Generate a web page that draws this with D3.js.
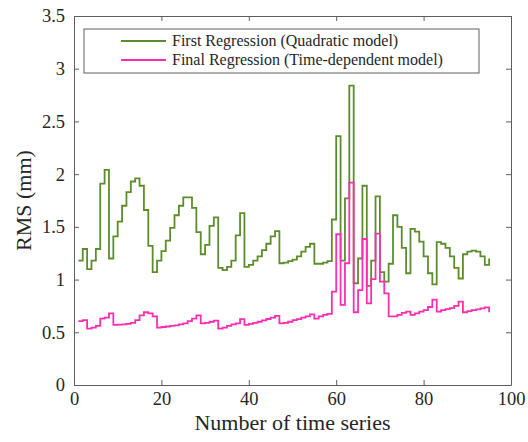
<!DOCTYPE html>
<html>
<head>
<meta charset="utf-8">
<script src="https://cdn.jsdelivr.net/npm/d3@7"></script>
<style>
    body { margin: 0; background: #fff; }
    svg { display: block; }
    .axis path, .axis line { stroke: #5e5e5e; }
</style>
</head>
<body>
<div id="chart"></div>
<script>
// values, one per time series (x = 1..95)
const firstRegression = [
    1.18, 1.29, 1.10, 1.18, 1.29, 1.91, 2.04, 1.20, 1.41, 1.55,
    1.70, 1.83, 1.93, 1.96, 1.89, 1.66, 1.32, 1.07, 1.18, 1.27,
    1.37, 1.49, 1.61, 1.70, 1.78, 1.78, 1.68, 1.45, 1.24, 1.33,
    1.51, 1.59, 1.11, 1.09, 1.12, 1.18, 1.42, 1.63, 1.12, 1.14,
    1.18, 1.22, 1.28, 1.34, 1.41, 1.46, 1.155, 1.16, 1.175, 1.19,
    1.22, 1.265, 1.31, 1.34, 1.15, 1.15, 1.16, 1.175, 1.57, 2.36,
    1.18, 1.77, 2.84, 0.965, 1.20, 1.89, 0.94, 1.18, 1.79, 1.07,
    0.98, 1.15, 1.61, 1.50, 1.30, 1.06, 1.48, 1.455, 1.36, 1.22,
    1.06, 0.955, 1.355, 1.34, 1.30, 1.22, 1.11, 1.01, 1.24, 1.265,
    1.275, 1.265, 1.22, 1.14, 1.20
];
const finalRegression = [
    0.605, 0.615, 0.535, 0.545, 0.56, 0.63, 0.64, 0.68, 0.57, 0.572,
    0.575, 0.58, 0.59, 0.615, 0.66, 0.69, 0.68, 0.65, 0.545, 0.55,
    0.555, 0.56, 0.565, 0.575, 0.585, 0.605, 0.63, 0.66, 0.585, 0.59,
    0.60, 0.61, 0.535, 0.545, 0.56, 0.575, 0.585, 0.625, 0.57, 0.58,
    0.59, 0.60, 0.613, 0.626, 0.64, 0.655, 0.585, 0.59, 0.60, 0.615,
    0.625, 0.64, 0.65, 0.67, 0.63, 0.65, 0.665, 0.675, 0.885, 1.43,
    0.76, 1.155, 1.92, 0.69, 0.90, 1.385, 0.775, 1.005, 1.435, 0.98,
    0.87, 0.65, 0.65, 0.665, 0.685, 0.696, 0.665, 0.68, 0.696, 0.71,
    0.74, 0.81, 0.696, 0.71, 0.72, 0.73, 0.75, 0.79, 0.69, 0.70,
    0.71, 0.718, 0.727, 0.737, 0.69
];
const seriesNames = ['First Regression (Quadratic model)', 'Final Regression (Time-dependent model)'];
const seriesColors = ['#5b8e2a', '#ff2eb0'];
const xTicks = [0, 20, 40, 60, 80, 100];
const yTicks = [0, 0.5, 1, 1.5, 2, 2.5, 3, 3.5];

const FONT = '"Liberation Serif", serif';
const width = 528, height = 442;
const margin = { left: 74, top: 16, right: 17, bottom: 57 };
const innerW = width - margin.left - margin.right,
    innerH = height - margin.top - margin.bottom;

const svg = d3.select('#chart').append('svg')
    .attr('width', width)
    .attr('height', height)
    .attr('font-family', FONT);

const x = d3.scaleLinear().domain([0, 100]).range([0, innerW]);
const y = d3.scaleLinear().domain([0, 3.5]).range([innerH, 0]);

const g = svg.append('g').attr('transform', `translate(${margin.left},${margin.top})`);

// --- axes, ticks pointing inward like matlab
const fmt = d => d3.format('~g')(d);
const styleAxis = sel => sel.attr('font-family', FONT).attr('font-size', 18.5)
    .call(s => s.selectAll('text').attr('fill', '#262626'));

g.append('g').attr('class', 'axis')
    .attr('transform', `translate(0,${innerH})`)
    .call(d3.axisBottom(x).tickValues(xTicks).tickSizeInner(-5).tickSizeOuter(0).tickPadding(7).tickFormat(fmt))
    .call(styleAxis);
g.append('g').attr('class', 'axis')
    .call(d3.axisTop(x).tickValues(xTicks).tickSizeInner(-5).tickSizeOuter(0).tickFormat(''));
g.append('g').attr('class', 'axis')
    .call(d3.axisLeft(y).tickValues(yTicks).tickSizeInner(-5).tickSizeOuter(0).tickPadding(9).tickFormat(fmt))
    .call(styleAxis);
g.append('g').attr('class', 'axis')
    .attr('transform', `translate(${innerW},0)`)
    .call(d3.axisRight(y).tickValues(yTicks).tickSizeInner(-5).tickSizeOuter(0).tickFormat(''));

// --- stairs
const stairs = d3.line()
    .x((_, i) => x(i + 1))
    .y(d => y(d))
    .curve(d3.curveStepAfter);

[firstRegression, finalRegression].forEach((data, k) => {
    g.append('path')
        .datum(data)
        .attr('fill', 'none')
        .attr('stroke', seriesColors[k])
        .attr('stroke-width', 1.8)
        .attr('d', stairs);
});

// --- labels
svg.append('text')
    .attr('x', margin.left + innerW / 2)
    .attr('y', 430)
    .attr('text-anchor', 'middle')
    .attr('font-size', 22)
    .attr('fill', '#262626')
    .text('Number of time series');
svg.append('text')
    .attr('transform', `translate(31,${margin.top + innerH / 2}) rotate(-90)`)
    .attr('text-anchor', 'middle')
    .attr('font-size', 22)
    .attr('fill', '#262626')
    .text('RMS (mm)');

// --- legend
const legend = svg.append('g').attr('transform', 'translate(84,29)');
legend.append('rect')
    .attr('width', 395).attr('height', 44)
    .attr('fill', '#fff').attr('stroke', '#5e5e5e');
seriesNames.forEach((name, k) => {
    const ly = 12 + k * 19;
    legend.append('line')
        .attr('x1', 37).attr('x2', 82).attr('y1', ly).attr('y2', ly)
        .attr('stroke', seriesColors[k]).attr('stroke-width', 1.8);
    legend.append('text')
        .attr('x', 88).attr('y', ly + 5)
        .attr('font-size', 16)
        .attr('fill', '#262626')
        .text(name);
});
</script>
</body>
</html>
